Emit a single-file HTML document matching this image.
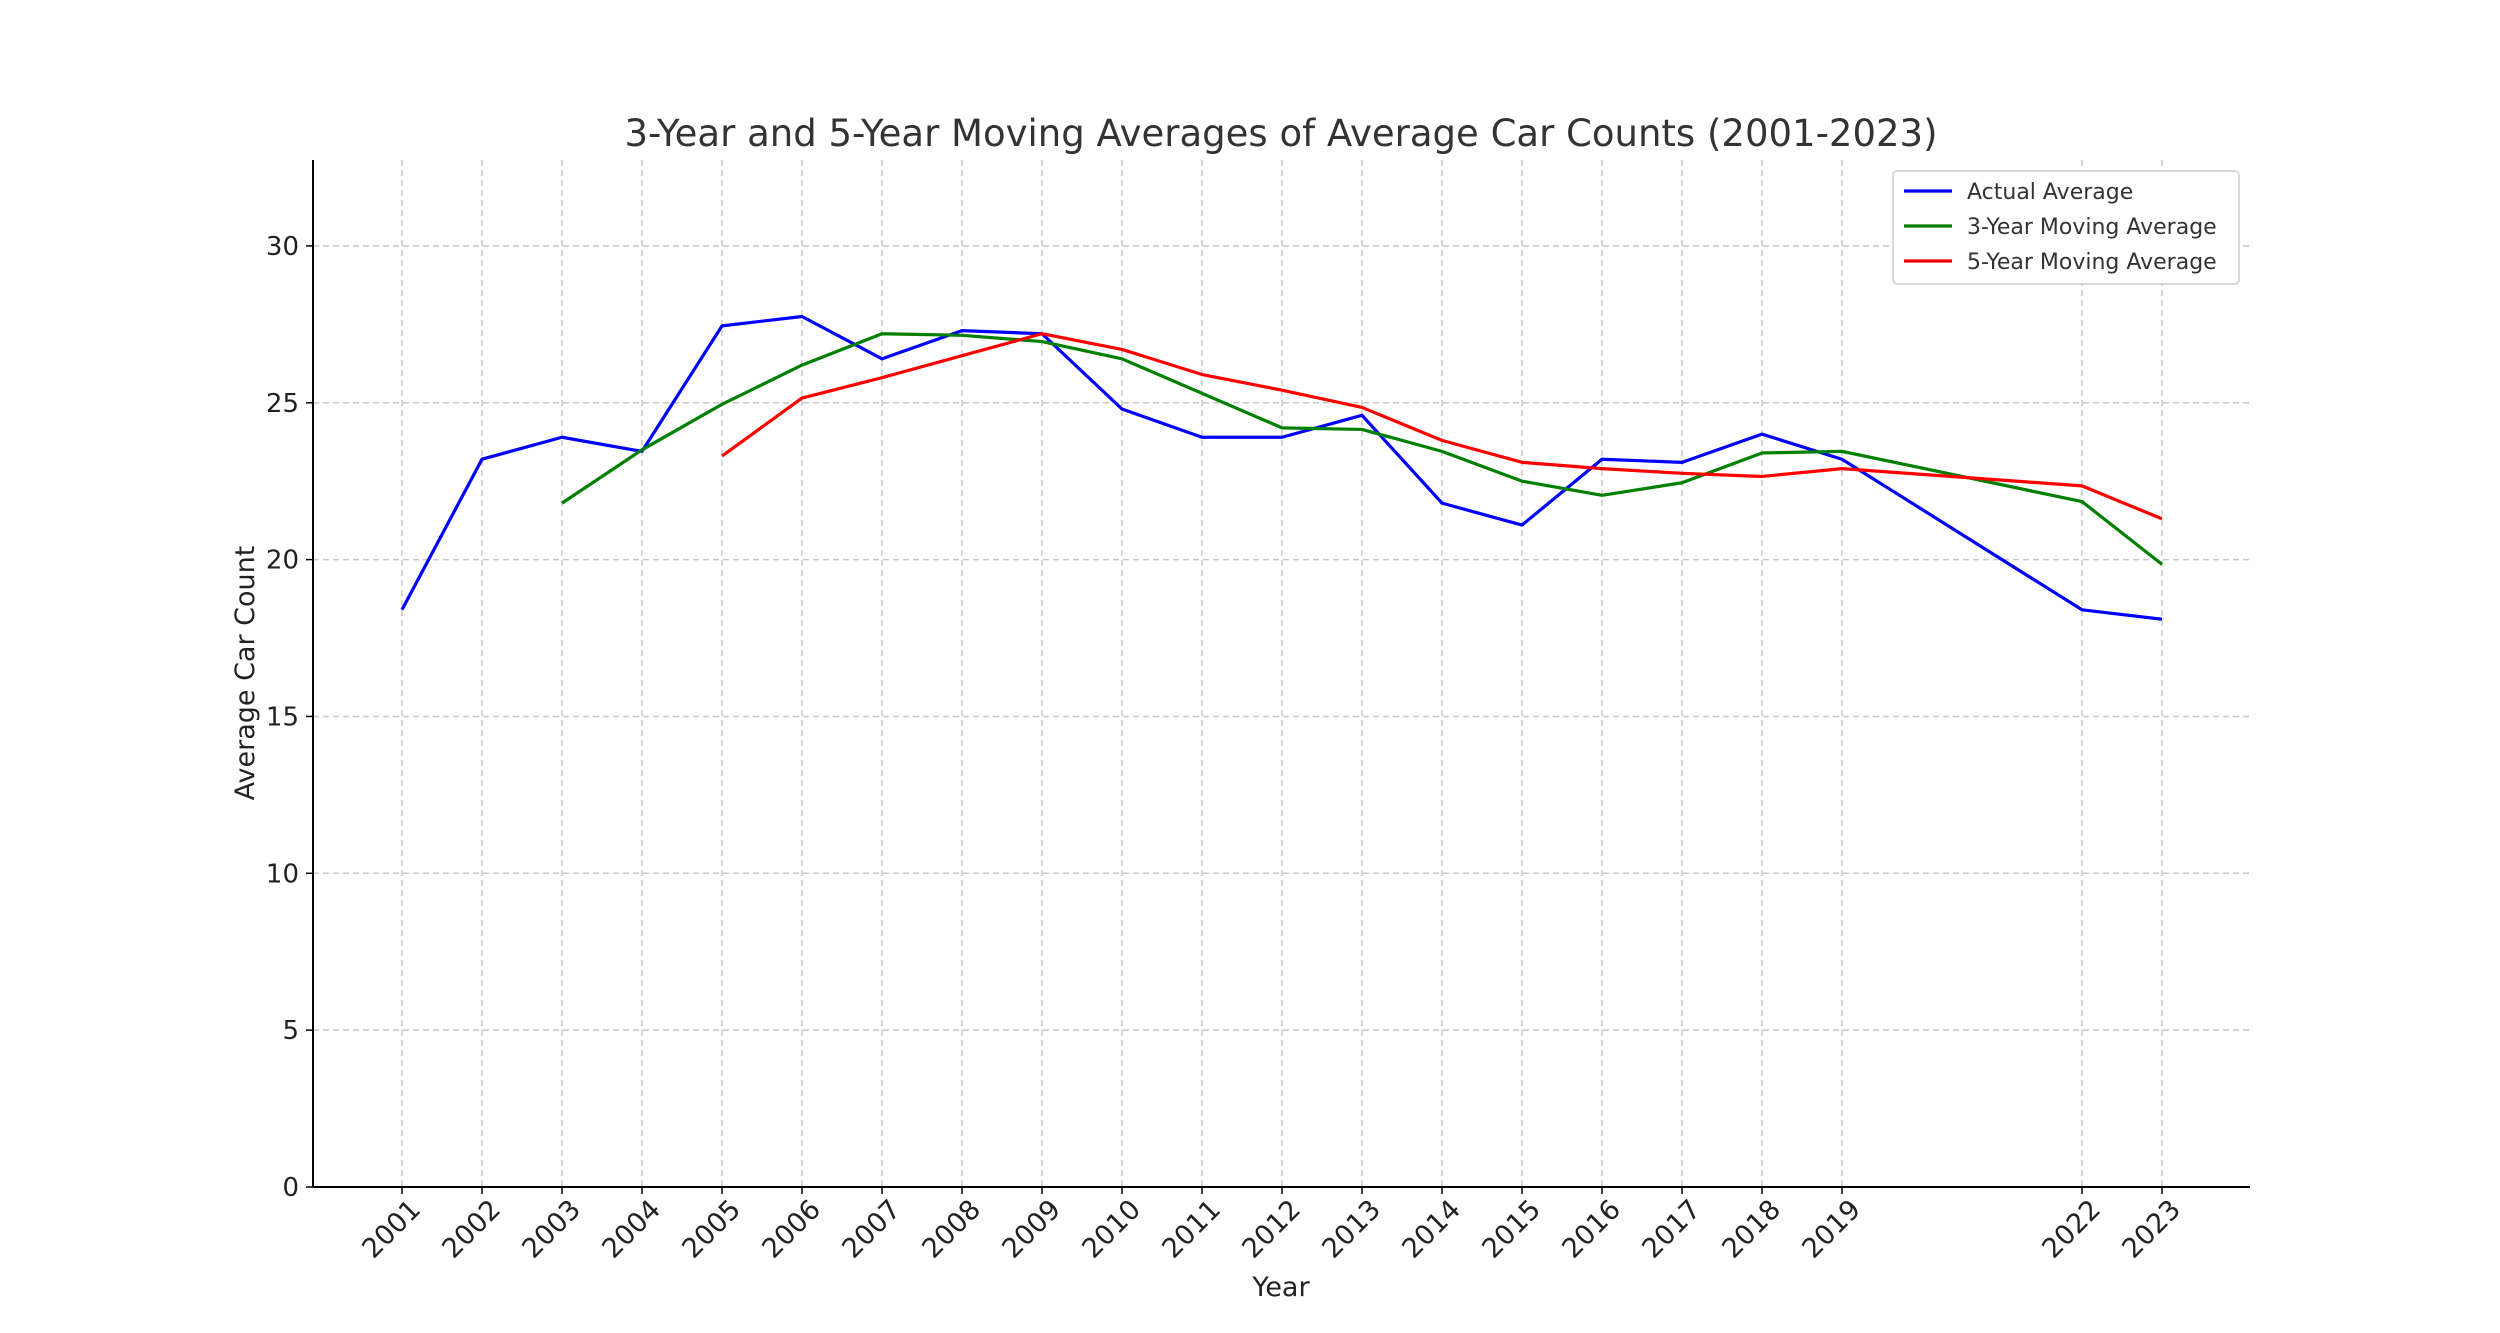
<!DOCTYPE html>
<html><head><meta charset="utf-8"><style>
html,body{margin:0;padding:0;background:#fff;}
svg{display:block;font-family:"DejaVu Sans","Liberation Sans",sans-serif;}
</style></head><body>
<svg id="chart" width="2500" height="1333" viewBox="0 0 2500 1333"></svg>
<script>
const years = [2001,2002,2003,2004,2005,2006,2007,2008,2009,2010,2011,2012,2013,2014,2015,2016,2017,2018,2019,2022,2023];
const actualValues = [18.4,23.2,23.9,23.45,27.45,27.75,26.4,27.3,27.2,24.8,23.9,23.9,24.6,21.8,21.1,23.2,23.1,24.0,23.2,18.4,18.1];
const ma3Values = [null,null,21.8,23.5,24.95,26.2,27.2,27.15,26.95,26.4,25.3,24.2,24.15,23.45,22.5,22.05,22.45,23.4,23.45,21.85,19.85];
const ma5Values = [null,null,null,null,23.3,25.15,25.8,26.5,27.2,26.7,25.9,25.4,24.85,23.8,23.1,22.9,22.75,22.65,22.9,22.35,21.3];
const yTicks = [0,5,10,15,20,25,30];
const seriesNames = ["Actual Average","3-Year Moving Average","5-Year Moving Average"];

const NS="http://www.w3.org/2000/svg";
const svg=document.getElementById('chart');
const L=313,R=2250,T=160,B=1187;
const x=y=>402+(y-2001)*80;
const yS=v=>B-v*31.37;
function mk(tag,attrs,parent){const e=document.createElementNS(NS,tag);for(const k in attrs)e.setAttribute(k,attrs[k]);(parent||svg).appendChild(e);return e;}

yTicks.forEach(t=>{
  const g=mk('line',{x1:L,x2:R,y1:yS(t),y2:yS(t),stroke:'#c8c8c8','stroke-width':1.5,'stroke-dasharray':'6,4'});
  
  
  const tk=mk('line',{x1:L-7,x2:L,y1:yS(t),y2:yS(t),stroke:'#000','stroke-width':1.5});
  
  
  const lb=mk('text',{x:L-14,y:yS(t)+9,'text-anchor':'end','font-size':26,fill:'#222'});
  lb.textContent=t;
  
  
});
years.forEach(yr=>{
  const g=mk('line',{x1:x(yr),x2:x(yr),y1:T,y2:B,stroke:'#c8c8c8','stroke-width':1.5,'stroke-dasharray':'6,4'});
  
  
  const tk=mk('line',{x1:x(yr),x2:x(yr),y1:B,y2:B+7,stroke:'#000','stroke-width':1.5});
  
  
  const ax=x(yr)+20, ay=B+24;
  const lb=mk('text',{x:ax,y:ay,'text-anchor':'end','font-size':27,fill:'#222',transform:`rotate(-45 ${ax} ${ay})`});
  lb.textContent=yr;
  
  
});
const ax1=mk('line',{x1:L,x2:L,y1:T,y2:B,stroke:'#000','stroke-width':2});


const ax2=mk('line',{x1:L,x2:R,y1:B,y2:B,stroke:'#000','stroke-width':2});



function series(vals,color,name){
  let d='';
  vals.forEach((v,i)=>{if(v==null)return;d+=(d?'L':'M')+x(years[i])+','+yS(v);});
  const p=mk('path',{d:d,fill:'none',stroke:color,'stroke-width':3.2,'stroke-linejoin':'round'});
  
  
}
series(actualValues,'#0000ff','actual-average-line');
series(ma3Values,'#008000','ma3-line');
series(ma5Values,'#ff0000','ma5-line');

const title=mk('text',{x:1281,y:146,'text-anchor':'middle','font-size':37,fill:'#333'});
title.textContent='3-Year and 5-Year Moving Averages of Average Car Counts (2001-2023)';


const xl=mk('text',{x:1281,y:1296,'text-anchor':'middle','font-size':27,fill:'#222'});
xl.textContent='Year';


const yl=mk('text',{x:254,y:673,'text-anchor':'middle','font-size':27,fill:'#222',transform:'rotate(-90 254 673)'});
yl.textContent='Average Car Count';



const lg=mk('g',{});


mk('rect',{x:1893,y:171,width:346,height:113,rx:4,fill:'#fff',stroke:'#ccc','stroke-width':1.5},lg);
const colors=['#0000ff','#008000','#ff0000'];
seriesNames.forEach((n,i)=>{
  const yy=191+i*35;
  const ln=mk('line',{x1:1904,x2:1952,y1:yy,y2:yy,stroke:colors[i],'stroke-width':3.2},lg);
  
  
  const t=mk('text',{x:1967,y:yy+8,'font-size':22,fill:'#333'},lg);
  t.textContent=n;
  
  
});
</script>
</body></html>
